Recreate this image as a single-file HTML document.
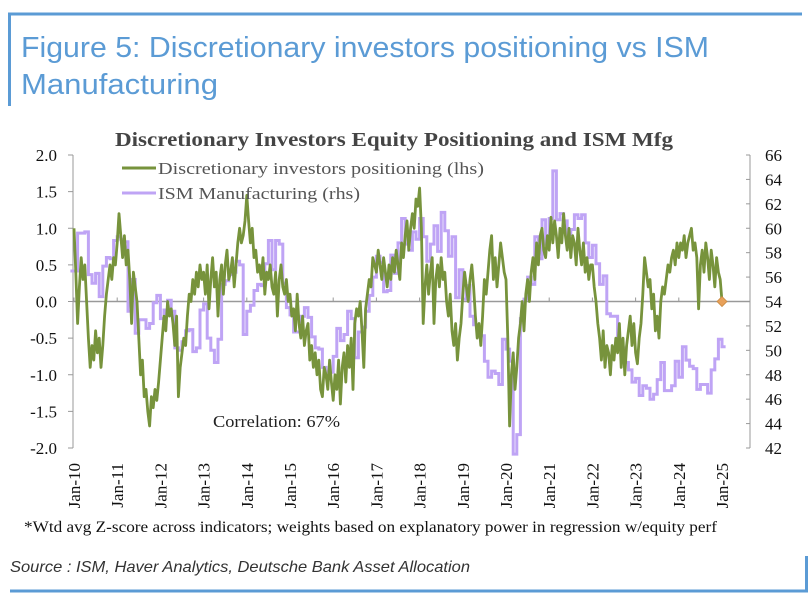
<!DOCTYPE html>
<html><head><meta charset="utf-8"><style>
html,body{margin:0;padding:0;background:#fff;}
svg{display:block;}
</style></head><body>
<svg id="chart" width="810" height="596" viewBox="0 0 810 596" xmlns="http://www.w3.org/2000/svg">
<g stroke="#5B9BD5" stroke-width="3" fill="none">
<line x1="8" y1="14" x2="802" y2="14"/><line x1="9.5" y1="13" x2="9.5" y2="106"/>
<line x1="10" y1="591" x2="808" y2="591"/><line x1="806.5" y1="556" x2="806.5" y2="592"/>
</g>
<text x="21" y="57" font-family="Liberation Sans, sans-serif" font-size="29" fill="#5B9BD5" textLength="688" lengthAdjust="spacingAndGlyphs">Figure 5: Discretionary investors positioning vs ISM</text>
<text x="21" y="94" font-family="Liberation Sans, sans-serif" font-size="29" fill="#5B9BD5" textLength="197" lengthAdjust="spacingAndGlyphs">Manufacturing</text>
<text x="115" y="146" font-family="Liberation Serif, serif" font-weight="bold" font-size="20" fill="#444" textLength="558" lengthAdjust="spacingAndGlyphs">Discretionary Investors Equity Positioning and ISM Mfg</text>
<g id="axes"></g>
<g id="series"></g>
<g font-family="Liberation Serif, serif" font-size="17" fill="#555">
<line x1="122" y1="168" x2="156" y2="168" stroke="#77933C" stroke-width="3"/>
<text x="158" y="174" textLength="326" lengthAdjust="spacingAndGlyphs">Discretionary investors positioning (lhs)</text>
<line x1="122" y1="193" x2="156" y2="193" stroke="#BFA4F5" stroke-width="3"/>
<text x="158" y="199" textLength="202" lengthAdjust="spacingAndGlyphs">ISM Manufacturing (rhs)</text>
</g>
<text x="213" y="427" font-family="Liberation Serif, serif" font-size="17" fill="#222" textLength="127" lengthAdjust="spacingAndGlyphs">Correlation: 67%</text>
<text x="24" y="532" font-family="Liberation Serif, serif" font-size="16" fill="#111" textLength="693" lengthAdjust="spacingAndGlyphs">*Wtd avg Z-score across indicators; weights based on explanatory power in regression w/equity perf</text>
<text x="10" y="572" font-family="Liberation Sans, sans-serif" font-style="italic" font-size="16" fill="#333" textLength="460" lengthAdjust="spacingAndGlyphs">Source : ISM, Haver Analytics, Deutsche Bank Asset Allocation</text>
</svg>
<script>
const leftTicks = ["2.0","1.5","1.0","0.5","0.0","-0.5","-1.0","-1.5","-2.0"];
const leftTickValues = [2,1.5,1,0.5,0,-0.5,-1,-1.5,-2];
const rightTicks = ["66","64","62","60","58","56","54","52","50","48","46","44","42"];
const rightTickValues = [66,64,62,60,58,56,54,52,50,48,46,44,42];
const xTickLabels = ["Jan-10","Jan-11","Jan-12","Jan-13","Jan-14","Jan-15","Jan-16","Jan-17","Jan-18","Jan-19","Jan-20","Jan-21","Jan-22","Jan-23","Jan-24","Jan-25"];
// semi-monthly positioning z-score, starting Jan 2010
const positioning = [
1.0,0.4,-0.3,0.2,0.6,0.3,0.5,0.0,-0.5,-0.9,-0.6,-0.8,-0.4,-0.7,-0.5,-0.9,-0.6,-0.2,0.1,0.3,0.5,0.3,0.6,0.5,
0.8,1.2,0.9,0.6,0.9,0.5,0.7,0.3,-0.3,0.4,0.2,0.0,-0.5,-1.0,-0.8,-1.3,-1.2,-1.5,-1.7,-1.3,-1.45,-1.2,-1.35,-1.1,
-0.8,-0.5,-0.2,-0.4,0.0,-0.2,-0.1,-0.3,-0.6,-0.2,-1.3,-0.9,-0.7,-0.5,-0.6,-0.2,0.1,0.0,0.3,0.1,0.4,0.2,0.5,0.3,
0.4,0.1,0.5,-0.1,0.3,0.6,0.2,0.4,-0.2,0.3,0.5,0.1,0.5,0.7,0.3,0.4,0.6,0.2,0.5,0.8,1.0,0.8,0.9,1.1,
1.45,1.1,0.8,1.0,0.6,0.7,0.4,0.5,0.3,0.6,0.1,0.4,0.3,0.5,0.2,0.1,0.4,-0.2,0.3,0.5,0.2,0.1,0.3,0.0,
0.1,-0.2,-0.1,-0.4,0.1,-0.3,-0.5,-0.2,-0.6,-0.4,-0.3,-0.8,-0.6,-0.9,-0.7,-1.0,-0.8,-1.2,-1.3,-0.9,-1.0,-1.2,-0.8,-1.1,
-1.35,-1.0,-1.2,-0.8,-1.4,-0.9,-0.7,-1.1,-0.6,-0.9,-0.5,-1.2,-0.3,-0.1,-0.2,0.0,-0.4,-0.9,-0.1,0.1,0.3,0.2,0.6,0.5,
0.4,0.7,0.5,0.3,0.6,0.4,0.2,0.5,0.3,0.6,0.4,0.7,0.5,0.3,0.8,0.6,0.9,1.1,0.7,1.0,1.2,1.0,1.4,1.3,
1.55,1.0,-0.3,0.2,0.5,0.1,0.4,0.6,-0.3,0.3,0.5,0.2,0.6,0.3,0.4,0.0,-0.2,0.1,-0.4,-0.6,-0.3,-0.8,-0.5,-0.3,
0.1,0.4,0.2,0.0,0.3,0.5,0.2,-0.2,-0.5,-0.3,-0.6,-0.2,0.3,0.1,0.4,0.7,0.9,0.3,0.6,0.2,0.5,0.8,0.6,0.4,
0.3,-0.5,-1.7,-1.0,-0.7,-1.2,-0.9,-0.5,-0.3,0.0,-0.4,0.1,0.3,0.0,0.4,0.6,0.3,0.8,0.5,0.9,1.0,0.7,0.6,0.9,
0.7,1.15,0.8,1.1,0.9,0.6,1.0,0.8,1.2,0.9,0.7,1.0,0.6,0.9,0.8,0.5,1.0,0.7,0.5,0.8,0.4,0.6,0.3,0.5,
0.5,0.2,0.0,-0.3,-0.5,-0.8,-0.4,-0.9,-0.6,-0.7,-1.0,-0.6,-0.8,-0.5,-0.7,-0.3,-0.9,-0.5,-1.0,-0.6,-0.4,-0.2,-0.6,-0.3,
-0.7,-0.85,-0.5,-0.3,0.1,0.6,0.4,0.2,0.3,-0.1,0.1,-0.4,-0.2,-0.5,0.0,0.2,0.1,0.3,0.5,0.4,0.6,0.7,0.5,0.8,
0.6,0.8,0.7,0.9,0.6,0.8,0.9,1.0,0.7,0.8,0.6,-0.1,0.5,0.7,0.4,0.8,0.6,0.3,0.7,0.5,0.2,0.6,0.4,0.3,
0.0];
// monthly ISM, starting Jan 2010
const ism = [
56.5,56.5,59.6,59.6,59.7,56.2,55.5,56.3,54.4,56.9,57.6,57.5,
59.0,59.3,59.1,58.9,53.2,55.8,51.4,52.5,52.5,51.8,52.2,53.9,
54.5,52.6,53.3,54.1,53.2,50.2,50.0,50.7,51.6,51.7,49.9,50.2,
53.3,53.8,51.0,50.0,49.0,50.9,55.4,55.7,56.2,56.4,57.3,57.0,
51.3,53.2,53.7,54.9,55.4,55.3,57.1,59.0,56.6,59.0,58.7,55.5,
53.5,52.9,51.5,51.5,52.8,53.5,52.7,51.1,50.2,50.1,48.6,48.2,
48.2,49.5,51.8,50.8,51.3,53.2,52.6,49.4,51.5,51.9,53.2,54.5,
56.0,57.7,57.2,54.8,54.9,57.8,56.3,58.8,60.8,58.7,58.2,59.7,
59.1,60.8,59.3,57.3,58.7,60.2,58.1,61.3,59.8,57.7,59.3,54.3,
56.6,54.2,55.3,52.8,52.1,51.7,51.2,49.1,47.8,48.3,48.1,47.2,
50.9,50.1,49.1,41.5,43.1,52.6,54.2,56.0,55.4,59.3,57.5,60.7,
58.7,60.8,64.7,60.7,61.2,60.6,59.5,59.9,61.1,60.8,61.1,58.8,
57.6,58.6,57.1,55.4,56.1,53.0,52.8,52.8,50.9,50.2,49.0,48.4,
47.4,47.7,46.3,47.1,46.9,46.0,46.4,47.6,49.0,46.7,46.7,47.1,
49.1,47.8,50.3,49.2,48.7,48.5,46.8,47.2,47.2,46.5,48.4,49.3,
50.9,50.3];
const lastPoint = [15.0, 0.0];

const NS = "http://www.w3.org/2000/svg";
const X0 = 74, XW = 43.2, YT = 155, YB = 448, LX = 73, RX = 750;
function xs(t){ return X0 + t*XW; }
function yl(v){ return YT + (2 - v)/4*(YB-YT); }
function yr(v){ return YT + (66 - v)/24*(YB-YT); }
function mk(tag, attrs, parent){ const e=document.createElementNS(NS,tag); for(const k in attrs) e.setAttribute(k,attrs[k]); parent.appendChild(e); return e; }
const axes = document.getElementById('axes');
const series = document.getElementById('series');
const ser = 'Liberation Serif, serif';

let ax = mk('line',{x1:LX,y1:YT,x2:LX,y2:YB,stroke:'#999','stroke-width':1},axes);


ax = mk('line',{x1:RX,y1:YT,x2:RX,y2:YB,stroke:'#999','stroke-width':1},axes);


ax = mk('line',{x1:LX,y1:yl(0),x2:RX,y2:yl(0),stroke:'#999','stroke-width':1.5},axes);



leftTickValues.forEach((v,i)=>{
  const y=yl(v);
  mk('line',{x1:LX-5,y1:y,x2:LX,y2:y,stroke:'#999'},axes);
  const t=mk('text',{x:57,y:y+6,'text-anchor':'end','font-family':ser,'font-size':17,fill:'#111'},axes);
  t.textContent=leftTicks[i];
  
  
});
rightTickValues.forEach((v,i)=>{
  const y=yr(v);
  mk('line',{x1:RX-4,y1:y,x2:RX,y2:y,stroke:'#999'},axes);
  const t=mk('text',{x:765,y:y+6,'font-family':ser,'font-size':17,fill:'#111'},axes);
  t.textContent=rightTicks[i];
  
  
});
xTickLabels.forEach((lab,i)=>{
  const x=xs(i);
  mk('line',{x1:x,y1:yl(0)-4,x2:x,y2:yl(0),stroke:'#999'},axes);
  const t=mk('text',{x:0,y:0,'text-anchor':'end','font-family':ser,'font-size':17,fill:'#111',transform:`translate(${x+6},463) rotate(-90)`},axes);
  t.textContent=lab;
  
  
});

// ISM step line
let d='';
ism.forEach((v,i)=>{
  const xa=xs((i-1)/12), xb=xs(i/12), y=yr(v);
  d += (i===0?`M${xa.toFixed(1)},${y.toFixed(1)}`:`L${xa.toFixed(1)},${y.toFixed(1)}`) + `L${xb.toFixed(1)},${y.toFixed(1)}`;
});
const pIsm = mk('path',{d:d,fill:'none',stroke:'#BFA4F5','stroke-width':3,'stroke-linejoin':'miter'},series);



// positioning line
d='';
positioning.forEach((v,i)=>{
  d += (i===0?'M':'L') + xs(i/24).toFixed(1) + ',' + yl(v).toFixed(1);
});
const pPos = mk('path',{d:d,fill:'none',stroke:'#77933C','stroke-width':2.8,'stroke-linejoin':'round'},series);



const dx=xs(lastPoint[0]), dy=yl(lastPoint[1]);
const dia = mk('path',{d:`M${dx},${dy-5}L${dx+5},${dy}L${dx},${dy+5}L${dx-5},${dy}Z`,fill:'#E8A15A',stroke:'#C98A40','stroke-width':0.8},series);


</script>
</body></html>
